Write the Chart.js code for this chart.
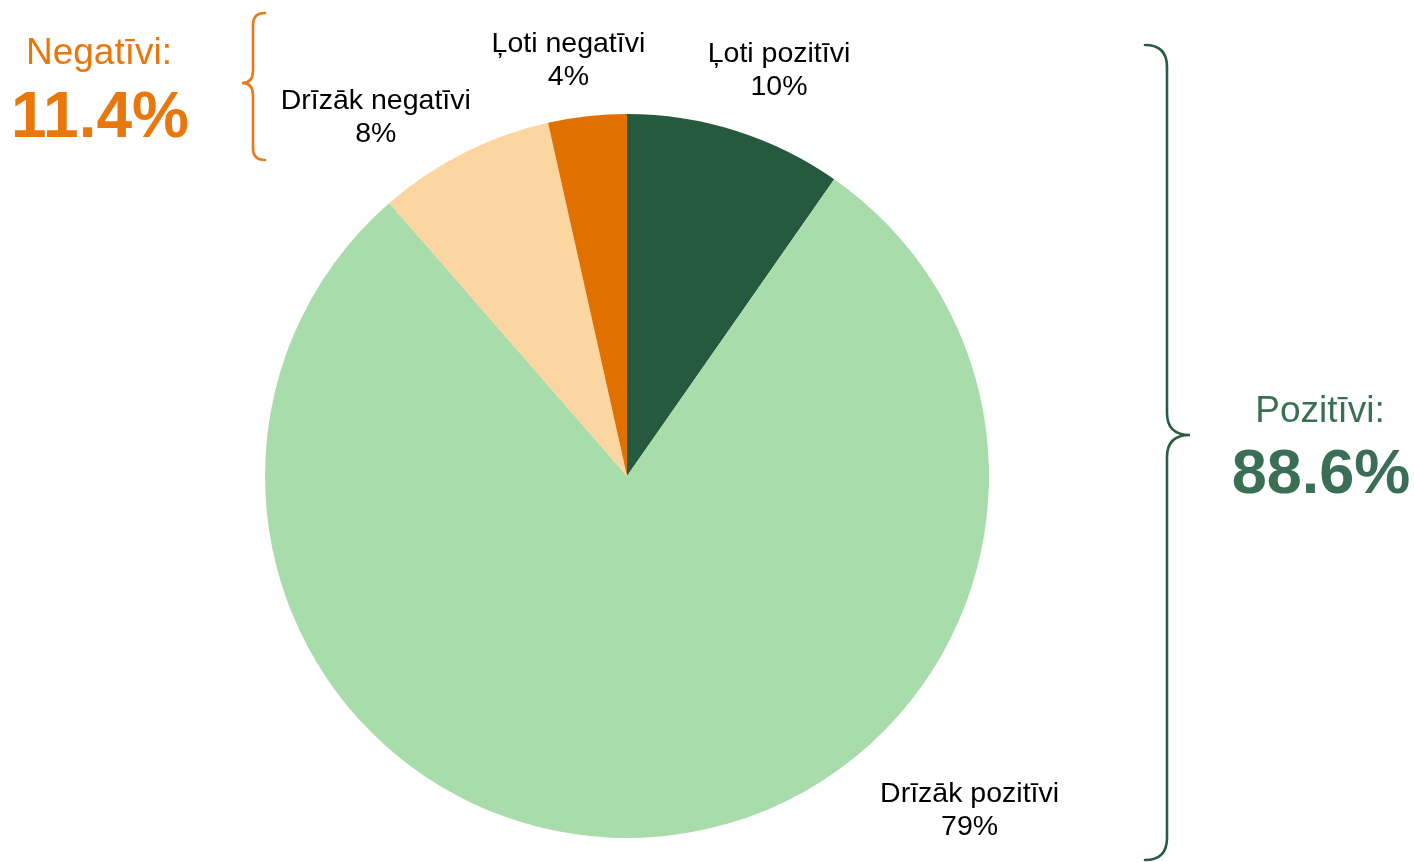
<!DOCTYPE html>
<html>
<head>
<meta charset="utf-8">
<script src="https://cdn.jsdelivr.net/npm/chart.js@4/dist/chart.umd.min.js"></script>
<style>
  html, body { margin: 0; padding: 0; background: #ffffff; }
  #wrap { position: relative; width: 1414px; height: 862px; }
</style>
</head>
<body>
<div id="wrap"><canvas id="c" width="1414" height="862"></canvas></div>
<script>
// ---- data ----
const categories = ['Ļoti pozitīvi', 'Drīzāk pozitīvi', 'Drīzāk negatīvi', 'Ļoti negatīvi'];
const shares = [9.7, 78.9, 7.9, 3.5];
const groupOf = ['pos', 'pos', 'neg', 'neg'];
const groupTitles = { pos: 'Pozitīvi:', neg: 'Negatīvi:' };

const sliceColors = ['#265A3E', '#A8DCAA', '#FCD6A0', '#E07000'];
const FONT = '"Liberation Sans", Arial, sans-serif';

// label anchors (angle from top clockwise in degrees, distance as factor of radius)
const labelAnchors = [
  { a: 20.5, d: 1.199 },
  { a: 134.2, d: 1.32 },
  { a: -34.9, d: 1.213 },
  { a: -8.0, d: 1.163 }
];

function groupSum(g) {
  let s = 0;
  shares.forEach((v, i) => { if (groupOf[i] === g) s += v; });
  return Math.round(s * 10) / 10;
}

const labelPlugin = {
  id: 'sliceLabels',
  afterDatasetsDraw(chart) {
    const ctx = chart.ctx;
    const meta = chart.getDatasetMeta(0);
    ctx.save();
    ctx.fillStyle = '#000000';
    ctx.font = '28.5px ' + FONT;
    ctx.textAlign = 'center';
    ctx.textBaseline = 'middle';
    meta.data.forEach((arc, i) => {
      const p = arc.getProps(['x', 'y', 'outerRadius'], true);
      const an = labelAnchors[i];
      const rad = an.a * Math.PI / 180;
      const cx = p.x + Math.sin(rad) * p.outerRadius * an.d;
      const cy = p.y - Math.cos(rad) * p.outerRadius * an.d;
      ctx.fillText(categories[i], cx, cy - 15);
      ctx.fillText(Math.round(shares[i]) + '%', cx, cy + 18);
    });
    ctx.restore();
  }
};

const bracePlugin = {
  id: 'braces',
  afterDraw(chart) {
    const ctx = chart.ctx;
    ctx.save();
    ctx.lineWidth = 2.6;
    ctx.lineCap = 'round';
    // negative brace "{"
    ctx.strokeStyle = '#E37A1C';
    ctx.beginPath();
    ctx.moveTo(265, 13);
    ctx.quadraticCurveTo(253, 13, 253, 25);
    ctx.lineTo(253, 71);
    ctx.quadraticCurveTo(253, 83, 242, 83);
    ctx.quadraticCurveTo(253, 83, 253, 95);
    ctx.lineTo(253, 148);
    ctx.quadraticCurveTo(253, 160, 265, 160);
    ctx.stroke();
    // positive brace "}"
    ctx.strokeStyle = '#2A5C43';
    ctx.beginPath();
    ctx.moveTo(1145, 45);
    ctx.quadraticCurveTo(1167, 45, 1167, 67);
    ctx.lineTo(1167, 413);
    ctx.quadraticCurveTo(1167, 435, 1190, 435);
    ctx.quadraticCurveTo(1167, 435, 1167, 457);
    ctx.lineTo(1167, 838);
    ctx.quadraticCurveTo(1167, 860, 1145, 860);
    ctx.stroke();

    ctx.textAlign = 'center';
    ctx.textBaseline = 'middle';
    // negative summary
    ctx.fillStyle = '#E8770E';
    ctx.font = '37px ' + FONT;
    ctx.fillText(groupTitles.neg, 99, 54);
    ctx.font = 'bold 64px ' + FONT;
    ctx.fillText(groupSum('neg').toFixed(1) + '%', 100, 119);
    // positive summary
    ctx.fillStyle = '#3A6E55';
    ctx.font = '37px ' + FONT;
    ctx.fillText(groupTitles.pos, 1320, 412);
    ctx.font = 'bold 63px ' + FONT;
    ctx.fillText(groupSum('pos').toFixed(1) + '%', 1321, 476);
    ctx.restore();
  }
};

new Chart(document.getElementById('c'), {
  type: 'pie',
  data: {
    labels: categories,
    datasets: [{
      data: shares,
      backgroundColor: sliceColors,
      borderWidth: 0,
      hoverOffset: 0
    }]
  },
  options: {
    responsive: false,
    animation: false,
    layout: { padding: { top: 114, bottom: 24, left: 0, right: 160 } },
    plugins: {
      legend: { display: false },
      tooltip: { enabled: false },
      title: { display: false }
    }
  },
  plugins: [labelPlugin, bracePlugin]
});
</script>
</body>
</html>
